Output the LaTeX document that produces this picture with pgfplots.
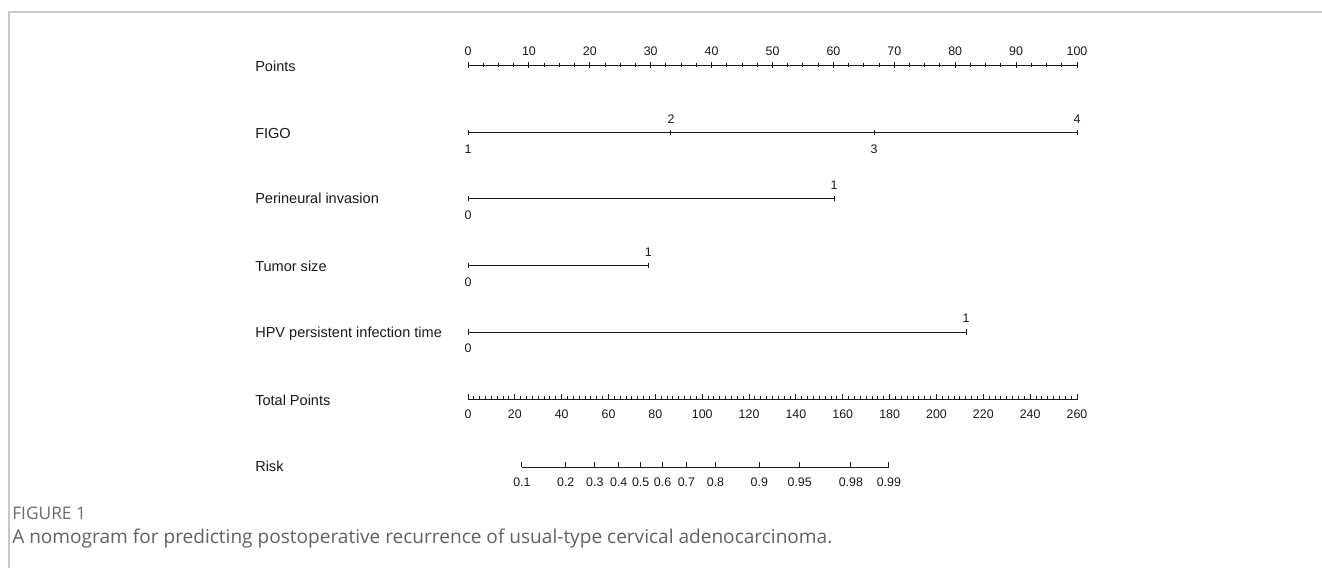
\documentclass[border=0pt]{standalone}
\usepackage{fontspec}
\setmainfont{Liberation Sans}
\newfontfamily\capfont{Open Sans}
\usepackage{pgfplots}
\pgfplotsset{compat=1.18}
\pgfplotsset{
  nomo/.style={
    x=4.5675pt, y=1pt, ymin=0, ymax=1,
    axis y line=none, ytick=\empty,
    clip=false,
    tick style={black!90, line width=0.75pt},
    major tick length=4pt, minor tick length=2.4pt,
    tick align=outside,
    ticklabel style={font=\fontsize{9.3}{10}\selectfont, text=black!90},
    /pgf/number format/assume math mode=true,
  },
  noarrow/.style={
    axis line style={-, black!90, line width=0.75pt},
    x axis line style={-},
    every outer x axis line/.append style={-},
    every inner x axis line/.append style={-},
  },
  nomotop/.style={nomo, axis x line=top, anchor=north west, noarrow,
    xticklabel style={yshift=1.5pt}},
  nomobot/.style={nomo, axis x line=bottom, anchor=south west, noarrow,
    xticklabel style={yshift=-3.5pt}},
  tp/.style={x=1.756731pt},
}
\begin{document}
\begin{tikzpicture}[x=0.75pt,y=-0.75pt]
\path[use as bounding box] (0,0) rectangle (1322,568);
\draw[black!22, line width=0.9pt] (9,568) -- (9,12) -- (1322,12);

% row labels
\begin{scope}[every node/.style={anchor=base west, font=\fontsize{10.9}{12}\selectfont, text=black!90, inner sep=0pt}]
\node at (255,71.2) {Points};
\node at (255,138.5) {FIGO};
\node at (255,203) {Perineural invasion};
\node at (255,271.5) {Tumor size};
\node at (255,337.5) {HPV persistent infection time};
\node at (255,405) {Total Points};
\node at (255,471.5) {Risk};
\end{scope}

% Points
\begin{axis}[nomotop, at={(351pt,-48.75pt)}, xmin=0, xmax=100,
  xtick={0,10,...,100}, minor x tick num=3]
\addplot[draw=none] coordinates {(0,1) (100,1)};
\end{axis}

% FIGO
\begin{axis}[nomotop, at={(351pt,-99.375pt)}, xmin=0, xmax=100,
  xtick={33.33,100}, xticklabels={2,4}]
\addplot[black!90, line width=0.75pt] coordinates {(0,1) (33.33,1) (66.67,1) (100,1)};
\end{axis}
\begin{axis}[nomobot, at={(351pt,-99.375pt)}, xmin=0, xmax=100,
  xtick={0,66.67}, xticklabels={1,3}]
\end{axis}

% Perineural invasion
\begin{axis}[nomotop, at={(351pt,-148.875pt)}, xmin=0, xmax=60.1,
  xtick={60.1}, xticklabels={1}]
\addplot[black!90, line width=0.75pt] coordinates {(0,1) (60.1,1)};
\end{axis}
\begin{axis}[nomobot, at={(351pt,-148.875pt)}, xmin=0, xmax=60.1,
  xtick={0}, xticklabels={0}]
\end{axis}

% Tumor size
\begin{axis}[nomotop, at={(351pt,-199.125pt)}, xmin=0, xmax=29.6,
  xtick={29.6}, xticklabels={1}]
\addplot[black!90, line width=0.75pt] coordinates {(0,1) (29.6,1)};
\end{axis}
\begin{axis}[nomobot, at={(351pt,-199.125pt)}, xmin=0, xmax=29.6,
  xtick={0}, xticklabels={0}]
\end{axis}

% HPV persistent infection time
\begin{axis}[nomotop, at={(351pt,-249pt)}, xmin=0, xmax=81.8,
  xtick={81.8}, xticklabels={1}]
\addplot[black!90, line width=0.75pt] coordinates {(0,1) (81.8,1)};
\end{axis}
\begin{axis}[nomobot, at={(351pt,-249pt)}, xmin=0, xmax=81.8,
  xtick={0}, xticklabels={0}]
\end{axis}

% Total Points
\begin{axis}[nomobot, tp, at={(351pt,-299.625pt)}, xmin=0, xmax=260,
  tick align=inside, xtick={0,20,...,260}, minor x tick num=7,
  xticklabel style={yshift=-1pt}]
\addplot[draw=none] coordinates {(0,0) (260,0)};
\end{axis}

% Risk
\begin{axis}[nomobot, tp, at={(391.46pt,-350.25pt)}, xmin=23.03, xmax=179.67,
  tick align=inside, xticklabel style={yshift=-1pt},
  xtick={23.03,41.73,54.16,64.35,73.7,83.05,93.24,105.67,124.37,141.61,163.46,179.67},
  xticklabels={0.1,0.2,0.3,0.4,0.5,0.6,0.7,0.8,0.9,0.95,0.98,0.99}]
\addplot[black!90, line width=0.75pt] coordinates {(23.03,0) (179.67,0)};
\end{axis}

% caption
\node[anchor=base west, inner sep=0pt, font=\capfont\fontsize{13}{14}\selectfont, text=black!58] at (12,519) {FIGURE 1};
\node[anchor=base west, inner sep=0pt, font=\capfont\fontsize{14.3}{16}\selectfont, text=black!62] at (12,543) {A nomogram for predicting postoperative recurrence of usual-type cervical adenocarcinoma.};
\end{tikzpicture}
\end{document}
